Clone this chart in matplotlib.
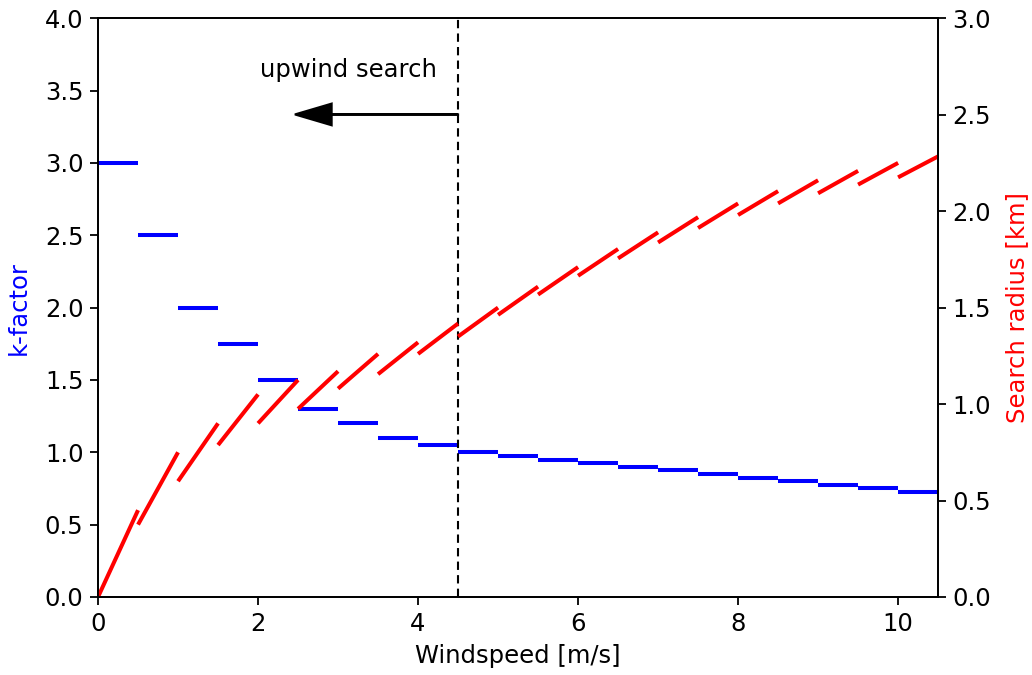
import numpy as np
import matplotlib
matplotlib.use("Agg")
import matplotlib.pyplot as plt

# Windspeed bins (lower edges, 0.5 m/s wide) and the k-factor used in each bin
bin_lower = [0.0, 0.5, 1.0, 1.5, 2.0, 2.5, 3.0, 3.5, 4.0, 4.5, 5.0,
             5.5, 6.0, 6.5, 7.0, 7.5, 8.0, 8.5, 9.0, 9.5, 10.0]
k_factor = [3.0, 2.5, 2.0, 1.75, 1.5, 1.3, 1.2, 1.1, 1.05, 1.0, 0.975,
            0.95, 0.925, 0.9, 0.875, 0.85, 0.825, 0.8, 0.775, 0.75, 0.725]
bin_width = 0.5
travel_time_km = 0.3  # km per (m/s): search radius = k * windspeed * 0.3
upwind_limit = 4.5

fs = 17.5
plt.rcParams.update({
    "axes.linewidth": 1.3,
    "xtick.major.size": 5.5, "ytick.major.size": 5.5,
    "xtick.major.width": 1.3, "ytick.major.width": 1.3,
    "xtick.major.pad": 5, "ytick.major.pad": 5,
})

fig = plt.figure(figsize=(10.32, 6.75), dpi=100)
ax = fig.add_axes([0.095, 0.1156, 0.814, 0.8574])
ax2 = ax.twinx()

for v0, k in zip(bin_lower, k_factor):
    v1 = v0 + bin_width
    ax.plot([v0, v1], [k, k], color="blue", lw=2.9, solid_capstyle="butt")
    ax2.plot([v0, v1], [k * v0 * travel_time_km, k * v1 * travel_time_km],
             color="red", lw=2.9, solid_capstyle="butt")

ax.axvline(upwind_limit, color="black", ls=(0, (4, 2.5)), lw=1.5)
ax.arrow(upwind_limit, 3.335, -2.04, 0, head_width=0.15, head_length=0.46,
         fc="black", ec="black", lw=1.5, length_includes_head=True)
ax.text(3.13, 3.645, "upwind search", ha="center", va="center", fontsize=fs)

ax.set_xlim(0, 10.5)
ax.set_ylim(0, 4.0)
ax2.set_ylim(0, 3.0)
ax.set_yticks(np.arange(0, 4.01, 0.5))
ax2.set_yticks(np.arange(0, 3.01, 0.5))
ax.set_xticks([0, 2, 4, 6, 8, 10])

ax.set_xlabel("Windspeed [m/s]", fontsize=fs, labelpad=6)
ax.set_ylabel("k-factor", color="blue", fontsize=fs, labelpad=10)
ax2.set_ylabel("Search radius [km]", color="red", fontsize=fs, labelpad=10)
for a in (ax, ax2):
    a.tick_params(labelsize=fs)

fig.savefig("out.png", dpi=100)
